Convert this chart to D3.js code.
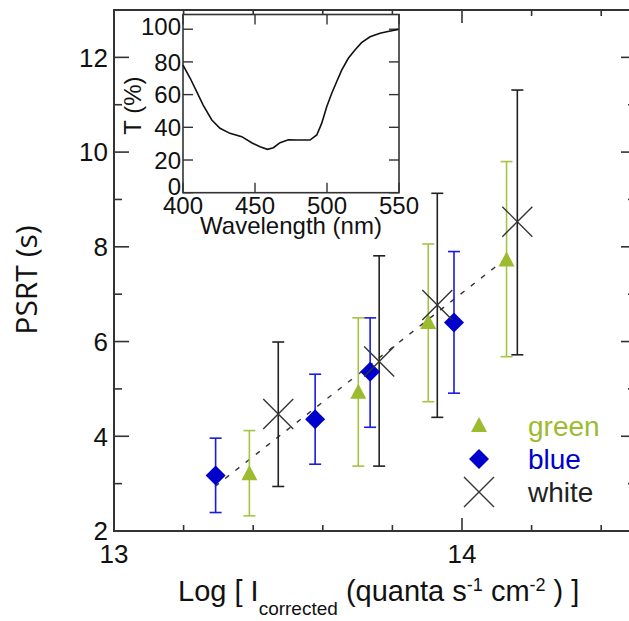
<!DOCTYPE html>
<html>
<head>
<meta charset="utf-8">
<script src="https://cdn.jsdelivr.net/npm/d3@7"></script>
<style>
  body { margin: 0; background: #fff; }
  svg { display: block; font-family: "Liberation Sans", Arial, sans-serif; }
</style>
</head>
<body>
<div id="chart"></div>
<script>
// data
const greenX = [13.389, 13.702, 13.903, 14.128];
const greenY = [3.20, 4.92, 6.39, 7.71];
const greenLo = [2.32, 3.37, 4.73, 5.68];
const greenHi = [4.12, 6.50, 8.06, 9.80];

const blueX = [13.292, 13.578, 13.736, 13.977];
const blueY = [3.17, 4.36, 5.36, 6.40];
const blueLo = [2.39, 3.41, 4.19, 4.91];
const blueHi = [3.96, 5.31, 6.50, 7.90];

const whiteX = [13.472, 13.762, 13.929, 14.159];
const whiteY = [4.47, 5.58, 6.77, 8.53];
const whiteLo = [2.94, 3.37, 4.40, 5.72];
const whiteHi = [5.99, 7.81, 9.13, 11.31];

const fitX = [13.29, 14.14];
const fitY = [2.94, 7.83];

const xTicks = [13, 14];
const yTicks = [2, 4, 6, 8, 10, 12];

// inset transmission spectrum
const wavelength = [400, 405, 409.5, 414, 420, 425.7, 432.6, 440.8, 447.7, 453.5, 458.6, 462.8, 467.4, 473.2, 479, 488.2, 492.9, 496.3, 499.8, 503.3, 506.7, 510.2, 514.8, 519.4, 524, 529.9, 536.8, 541.5, 549.5];
const transmission = [78.1, 70, 61.8, 53.6, 44.5, 39.4, 36.3, 34.3, 30.6, 28.1, 26.5, 27.5, 30.6, 32.4, 32.2, 32.2, 35.3, 42.4, 52.6, 60.8, 67.9, 75, 82.2, 87.3, 91.8, 95.4, 97.5, 98.5, 99.9];
const insetXTicks = [400, 450, 500, 550];
const insetYTicks = [0, 20, 40, 60, 80, 100];

const W = 629, H = 621;
const axisColor = "#333";
const greenCol = "#9cbb2e", greenBar = "#a6c443";
const blueCol = "#0000cc", blueBar = "#1a1ae0";
const blackCol = "#222";

const svg = d3.select("#chart").append("svg")
  .attr("width", W)
  .attr("height", H);

// Scales
const x = d3.scaleLinear().domain([13, 14.5]).range([114, 636]);
const y = d3.scaleLinear().domain([2, 13]).range([531, 10]);

const frame = svg.append("g");

// ticks (all inward)
const xMinor = d3.range(13, 14.5001, 0.2).map((d) => +d.toFixed(1));
const yMinor = d3.range(3, 13.001, 2);

xMinor.forEach((v) => {
  const major = xTicks.includes(v);
  const len = major ? 13 : 6;
  frame.append("line").attr("x1", x(v)).attr("x2", x(v))
    .attr("y1", y(2)).attr("y2", y(2) - len)
    .attr("stroke", axisColor).attr("stroke-width", 1.6);
  frame.append("line").attr("x1", x(v)).attr("x2", x(v))
    .attr("y1", y(13)).attr("y2", y(13) + len)
    .attr("stroke", axisColor).attr("stroke-width", 1.6);
});

yTicks.concat(yMinor).forEach((v) => {
  const major = yTicks.includes(v);
  const len = major ? 15 : 8;
  frame.append("line").attr("x1", x(13)).attr("x2", x(13) + len)
    .attr("y1", y(v)).attr("y2", y(v))
    .attr("stroke", axisColor).attr("stroke-width", 1.6);
  frame.append("line").attr("x1", x(14.5)).attr("x2", x(14.5) - len)
    .attr("y1", y(v)).attr("y2", y(v))
    .attr("stroke", axisColor).attr("stroke-width", 1.6);
});

frame.append("rect")
  .attr("x", x(13)).attr("y", y(13))
  .attr("width", x(14.5) - x(13)).attr("height", y(2) - y(13))
  .attr("fill", "none").attr("stroke", axisColor).attr("stroke-width", 2);

// tick labels
frame.selectAll(".ylab").data(yTicks).enter().append("text")
  .attr("x", x(13) - 6)
  .attr("y", (d) => y(d))
  .attr("dy", "0.36em")
  .attr("text-anchor", "end")
  .attr("font-size", "26px")
  .attr("fill", "#111")
  .text((d) => d);

frame.selectAll(".xlab").data(xTicks).enter().append("text")
  .attr("x", (d) => x(d))
  .attr("y", 563)
  .attr("text-anchor", "middle")
  .attr("font-size", "26px")
  .attr("fill", "#111")
  .text((d) => d);

// axis titles
svg.append("text")
  .attr("transform", "translate(37,280) rotate(-90)")
  .attr("text-anchor", "middle")
  .attr("font-family", "'Open Sans', sans-serif")
  .attr("font-size", "30px")
  .attr("fill", "#111")
  .text("PSRT (s)");

const xt = svg.append("text")
  .attr("x", 178)
  .attr("y", 601)
  .attr("font-size", "29px")
  .attr("fill", "#111");
xt.append("tspan").text("Log [ I");
xt.append("tspan").attr("font-size", "19px").attr("dy", 14).text("corrected");
xt.append("tspan").attr("dy", -14).text(" (quanta s");
xt.append("tspan").attr("font-size", "18px").attr("dy", -10).text("-1");
xt.append("tspan").attr("dy", 10).text(" cm");
xt.append("tspan").attr("font-size", "18px").attr("dy", -10).text("-2");
xt.append("tspan").attr("dy", 10).text(" ) ]");

// fit line
svg.append("path")
  .datum(d3.zip(fitX, fitY))
  .attr("fill", "none")
  .attr("stroke", "#333")
  .attr("stroke-width", 1.4)
  .attr("stroke-dasharray", "5,8")
  .attr("d", d3.line().x((d) => x(d[0])).y((d) => y(d[1])));

// error bars + markers
const series = [
  { xs: blueX, ys: blueY, lo: blueLo, hi: blueHi, bar: blueBar, col: blueCol, kind: "diamond" },
  { xs: greenX, ys: greenY, lo: greenLo, hi: greenHi, bar: greenBar, col: greenCol, kind: "triangle" },
  { xs: whiteX, ys: whiteY, lo: whiteLo, hi: whiteHi, bar: blackCol, col: blackCol, kind: "cross" }
];

function drawMarker(g, kind, cx, cy, col) {
  if (kind === "diamond") {
    g.append("path")
      .attr("d", `M${cx},${cy - 10}L${cx + 10},${cy}L${cx},${cy + 10}L${cx - 10},${cy}Z`)
      .attr("fill", col);
  } else if (kind === "triangle") {
    g.append("path")
      .attr("d", `M${cx},${cy - 9}L${cx + 8},${cy + 6}L${cx - 8},${cy + 6}Z`)
      .attr("fill", col);
  } else {
    g.append("path")
      .attr("d", `M${cx - 15},${cy - 15}L${cx + 15},${cy + 15}M${cx - 15},${cy + 15}L${cx + 15},${cy - 15}`)
      .attr("stroke", "#333")
      .attr("stroke-width", 1.4)
      .attr("fill", "none");
  }
}

const marks = svg.append("g");
// draw all error bars first, then markers in order
series.forEach((s) => {
  s.xs.forEach((xv, i) => {
    const cx = x(xv);
    marks.append("line").attr("x1", cx).attr("x2", cx)
      .attr("y1", y(s.lo[i])).attr("y2", y(s.hi[i]))
      .attr("stroke", s.bar).attr("stroke-width", 1.6);
    [s.lo[i], s.hi[i]].forEach((v) => {
      marks.append("line").attr("x1", cx - 6).attr("x2", cx + 6)
        .attr("y1", y(v)).attr("y2", y(v))
        .attr("stroke", s.bar).attr("stroke-width", 1.6);
    });
  });
});
series.forEach((s) => {
  s.xs.forEach((xv, i) => drawMarker(marks, s.kind, x(xv), y(s.ys[i]), s.col));
});

// legend
const legendItems = [
  { label: "green", kind: "triangle", col: greenCol, cy: 426 },
  { label: "blue", kind: "diamond", col: blueCol, cy: 459 },
  { label: "white", kind: "cross", col: blackCol, cy: 492 }
];
const legend = svg.append("g");
legendItems.forEach((it) => {
  drawMarker(legend, it.kind, 479, it.cy, it.col);
  legend.append("text")
    .attr("x", 528)
    .attr("y", it.cy)
    .attr("dy", "0.36em")
    .attr("font-size", "28px")
    .attr("fill", it.col)
    .text(it.label);
});

// Inset
const ix = d3.scaleLinear().domain([400, 550]).range([183, 399]);
const iy = d3.scaleLinear().domain([0, 109]).range([192.7, 14.5]);
const inset = svg.append("g");

inset.append("rect")
  .attr("x", ix(400)).attr("y", iy(109))
  .attr("width", ix(550) - ix(400)).attr("height", iy(0) - iy(109))
  .attr("fill", "#fff").attr("stroke", axisColor).attr("stroke-width", 1.6);

insetXTicks.forEach((v) => {
  inset.append("line").attr("x1", ix(v)).attr("x2", ix(v))
    .attr("y1", iy(0)).attr("y2", iy(0) - 10)
    .attr("stroke", axisColor).attr("stroke-width", 1.4);
  inset.append("line").attr("x1", ix(v)).attr("x2", ix(v))
    .attr("y1", iy(109)).attr("y2", iy(109) + 10)
    .attr("stroke", axisColor).attr("stroke-width", 1.4);
});
insetYTicks.forEach((v) => {
  inset.append("line").attr("x1", ix(400)).attr("x2", ix(400) + 10)
    .attr("y1", iy(v)).attr("y2", iy(v))
    .attr("stroke", axisColor).attr("stroke-width", 1.4);
  inset.append("line").attr("x1", ix(550)).attr("x2", ix(550) - 10)
    .attr("y1", iy(v)).attr("y2", iy(v))
    .attr("stroke", axisColor).attr("stroke-width", 1.4);
});

// end labels are nudged inward, as in the original
inset.selectAll(".iyl").data(insetYTicks).enter().append("text")
  .attr("x", ix(400) - 2)
  .attr("y", (d) => iy(d) + (d === 0 ? -6 : d === 100 ? -3 : 0))
  .attr("dy", "0.36em")
  .attr("text-anchor", "end")
  .attr("font-size", "24px")
  .attr("fill", "#111")
  .text((d) => d);

inset.selectAll(".ixl").data(insetXTicks).enter().append("text")
  .attr("x", (d) => ix(d))
  .attr("y", 214)
  .attr("text-anchor", "middle")
  .attr("font-size", "24px")
  .attr("fill", "#111")
  .text((d) => d);

inset.append("text")
  .attr("x", (ix(400) + ix(550)) / 2)
  .attr("y", 234)
  .attr("text-anchor", "middle")
  .attr("font-size", "24px")
  .attr("fill", "#111")
  .text("Wavelength (nm)");

inset.append("text")
  .attr("transform", `translate(141,${(iy(0) + iy(109)) / 2 + 2}) rotate(-90)`)
  .attr("text-anchor", "middle")
  .attr("font-size", "24px")
  .attr("fill", "#111")
  .text("T (%)");

inset.append("path")
  .datum(d3.zip(wavelength, transmission))
  .attr("fill", "none")
  .attr("stroke", "#111")
  .attr("stroke-width", 1.6)
  .attr("d", d3.line().x((d) => ix(d[0])).y((d) => iy(d[1])));
</script>
</body>
</html>
